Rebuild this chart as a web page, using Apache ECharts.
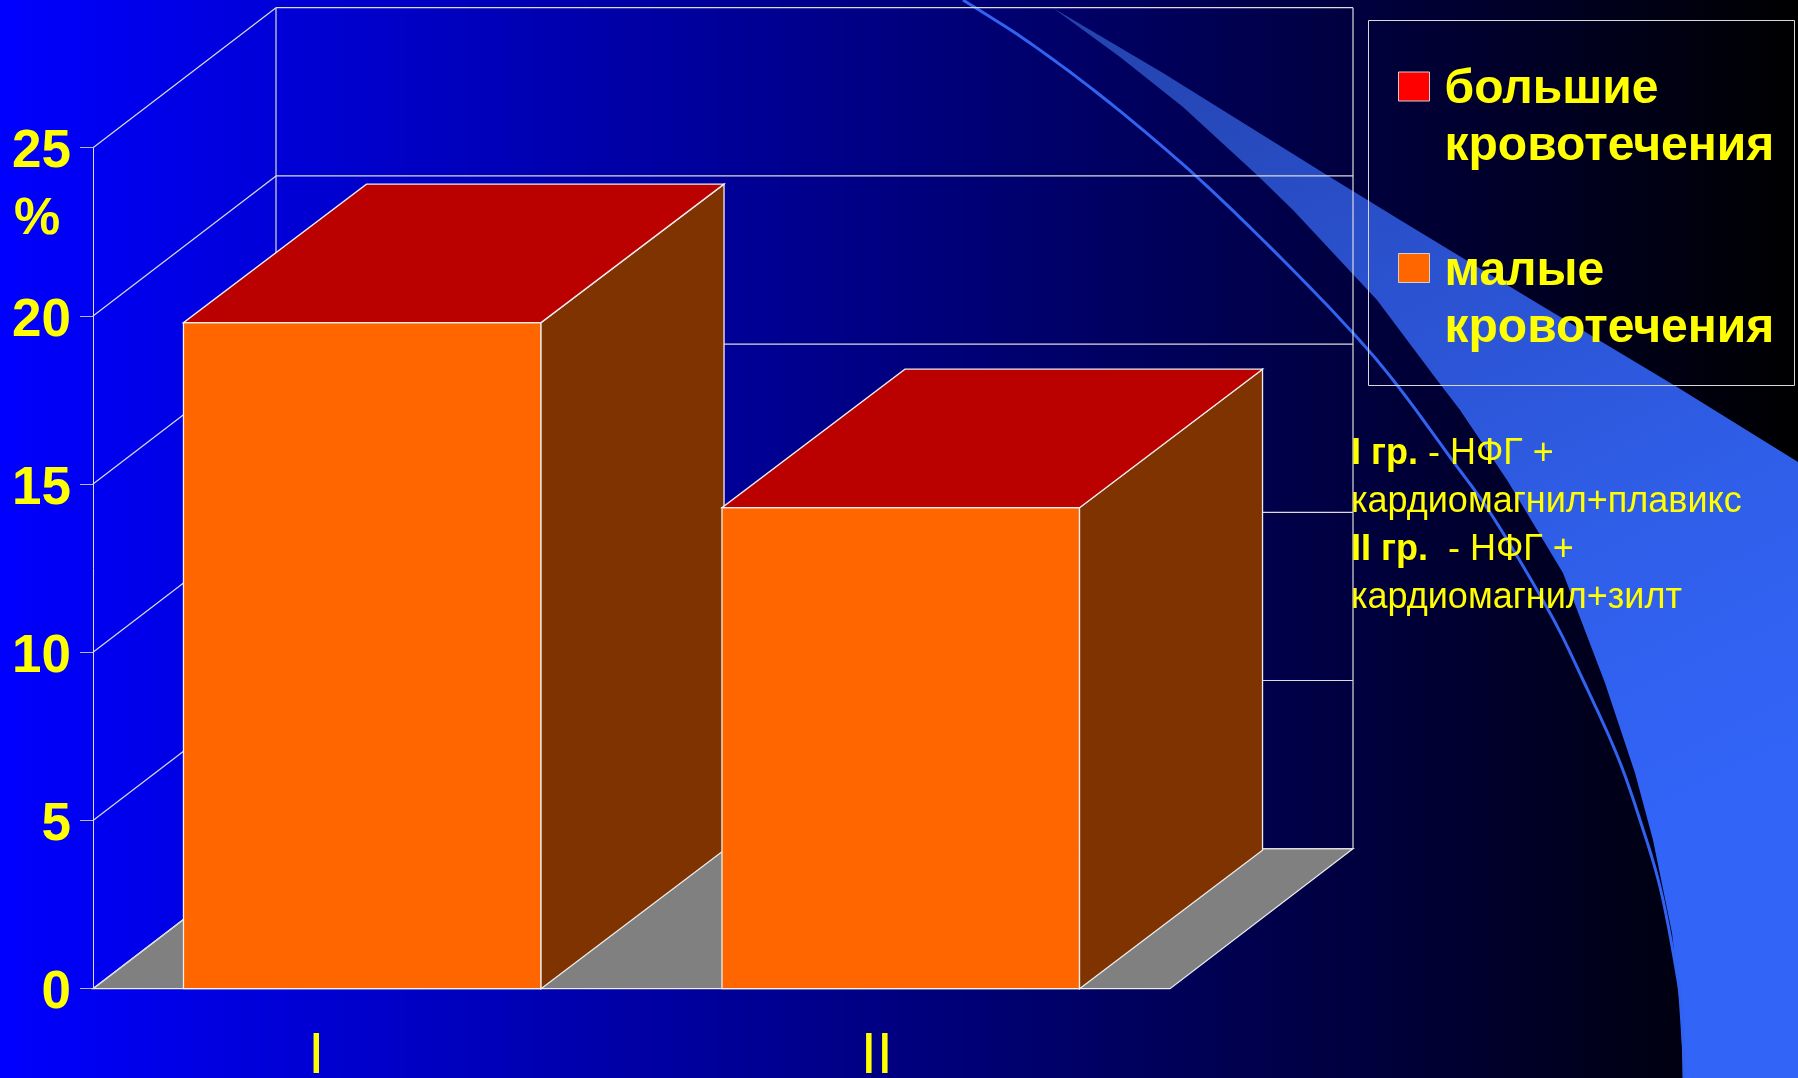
<!DOCTYPE html>
<html lang="ru">
<head>
<meta charset="utf-8">
<title>Кровотечения по группам</title>
<script src="https://cdn.jsdelivr.net/npm/echarts@6/dist/echarts.min.js"></script>
<style>
  html, body { margin: 0; padding: 0; background: #000; }
  #chart { width: 1798px; height: 1078px; }
</style>
</head>
<body>
<div id="chart"></div>
<script>
// Chart values, in percent
const categories = ['I', 'II'];
const minorBleeding = [19.8, 14.3];
const majorBleeding = [0, 0];
const yTicks = [0, 5, 10, 15, 20, 25];
const seriesNames = ['большие кровотечения', 'малые кровотечения'];

// Oblique projection offset of the box depth, in pixels
const DEPTH_X = 183;
const DEPTH_Y = -140;
const BAR_DEPTH_Y = -138.5;

const FONT = '"Liberation Sans", Arial, sans-serif';
const YELLOW = '#ffff00';
const EDGE = '#eeeeee';
const GRID_LINE = '#dcdcdc';

const chart = echarts.init(document.getElementById('chart'), null, { renderer: 'canvas' });

function poly(points, fill) {
  return {
    type: 'polygon',
    shape: { points },
    style: { fill, stroke: EDGE, lineWidth: 1.3 }
  };
}

function line(a, b, color) {
  return {
    type: 'line',
    shape: { x1: a[0], y1: a[1], x2: b[0], y2: b[1] },
    style: { stroke: color || GRID_LINE, lineWidth: 1.2, fill: null }
  };
}

const back = p => [p[0] + DEPTH_X, p[1] + DEPTH_Y];
const barBack = p => [p[0] + DEPTH_X, p[1] + BAR_DEPTH_Y];

// Walls and floor: one pass per tick value
function renderWalls(params, api) {
  const value = api.value(0);
  const band = api.size([1, 0])[0];
  const left = api.coord([0, value])[0] - band / 2;
  const right = api.coord([categories.length - 1, value])[0] + band / 2;
  const y = api.coord([0, value])[1];
  const children = [
    line([left, y], back([left, y])),
    line(back([left, y]), back([right, y]))
  ];
  if (value === 0) {
    const topY = api.coord([0, yTicks[yTicks.length - 1]])[1];
    children.unshift(poly([[left, y], [right, y], back([right, y]), back([left, y])], '#808080'));
    children.push(line(back([left, y]), back([left, topY])));
    children.push(line(back([right, y]), back([right, topY])));
  }
  return { type: 'group', children };
}

// A stacked segment drawn as an oblique box
function renderBox(faces, params, api) {
  const idx = api.value(0);
  const low = api.value(1);
  const high = api.value(2);
  const band = api.size([1, 0])[0];
  const halfWidth = band * 0.332;
  const cx = api.coord([idx, 0])[0];
  const yLow = api.coord([idx, low])[1];
  const yHigh = api.coord([idx, high])[1];
  const x0 = cx - halfWidth;
  const x1 = cx + halfWidth;
  const children = [];
  if (faces.side && yLow !== yHigh) {
    children.push(poly([[x0, yLow], [x1, yLow], [x1, yHigh], [x0, yHigh]], faces.front));
    children.push(poly([[x1, yLow], barBack([x1, yLow]), barBack([x1, yHigh]), [x1, yHigh]], faces.side));
  }
  if (faces.top) {
    children.push(poly([[x0, yHigh], [x1, yHigh], barBack([x1, yHigh]), barBack([x0, yHigh])], faces.top));
  }
  return { type: 'group', children };
}

// Background ribbon outline
const swoosh = [
  [1053, 8], [1163, 73], [1330, 177], [1400, 220], [1532, 300], [1677, 387], [1798, 462],
  [1798, 1078], [1684, 1078], [1678, 987], [1672, 933], [1653, 840], [1635, 773], [1605, 683],
  [1563, 573], [1507, 480], [1460, 410], [1437, 380], [1377, 300], [1293, 210], [1257, 175],
  [1183, 107], [1120, 57]
];
// Background thin arc
const thinArc = [
  [963, 0], [1030, 43], [1110, 103], [1197, 177], [1283, 260], [1353, 333], [1397, 385],
  [1450, 457], [1493, 517], [1550, 613], [1583, 680], [1617, 755], [1640, 820], [1660, 887],
  [1675, 963], [1682, 1013], [1684, 1078]
];

// Catmull-Rom spline through the points, sampled for a polyline
function splinePoints(pts) {
  const out = [];
  const steps = 12;
  for (let i = 0; i < pts.length - 1; i++) {
    const p0 = pts[Math.max(i - 1, 0)];
    const p1 = pts[i];
    const p2 = pts[i + 1];
    const p3 = pts[Math.min(i + 2, pts.length - 1)];
    for (let s = 0; s < steps; s++) {
      const t = s / steps;
      const at = k => 0.5 * (2 * p1[k] + (p2[k] - p0[k]) * t
        + (2 * p0[k] - 5 * p1[k] + 4 * p2[k] - p3[k]) * t * t
        + (3 * p1[k] - p0[k] - 3 * p2[k] + p3[k]) * t * t * t);
      out.push([at(0), at(1)]);
    }
  }
  out.push(pts[pts.length - 1]);
  return out;
}

const noteRows = [
  '{b|I гр.}{r| - НФГ +}',
  '{r|кардиомагнил+плавикс}',
  '{b|II гр.}{r|  - НФГ +}',
  '{r|кардиомагнил+зилт}'
];

const legendText = {
  color: YELLOW,
  fontFamily: FONT,
  fontWeight: 'bold',
  fontSize: 48,
  lineHeight: 57
};

const option = {
  animation: false,
  backgroundColor: new echarts.graphic.LinearGradient(0, 0, 1, 0, [
    { offset: 0, color: '#0000ff' },
    { offset: 1, color: '#000000' }
  ]),
  graphic: [
    {
      type: 'polygon',
      z: -1,
      silent: true,
      shape: { points: swoosh },
      style: {
        fill: new echarts.graphic.LinearGradient(0, 0, 0.7, 1, [
          { offset: 0, color: '#2342ab' },
          { offset: 0.3, color: '#2a50cc' },
          { offset: 0.6, color: '#2f5ee8' },
          { offset: 0.85, color: '#3264f8' }
        ])
      }
    },
    {
      type: 'polyline',
      z: -1,
      silent: true,
      shape: { points: splinePoints(thinArc) },
      style: { stroke: '#3162f0', lineWidth: 3, fill: null }
    },
    {
      type: 'rect',
      z: 5,
      silent: true,
      shape: { x: 1368.5, y: 20.5, width: 426, height: 365 },
      style: { fill: null, stroke: '#d8d8d8', lineWidth: 1 }
    },
    {
      type: 'text',
      z: 6,
      silent: true,
      x: 14,
      y: 220,
      style: {
        text: '%',
        font: 'bold 52px ' + FONT,
        fill: YELLOW,
        verticalAlign: 'middle'
      }
    },
    {
      type: 'text',
      z: 6,
      silent: true,
      x: 1351,
      y: 430,
      style: {
        text: noteRows.join('\n'),
        fill: YELLOW,
        lineHeight: 48,
        rich: {
          b: { font: 'bold 36px ' + FONT, fill: YELLOW, lineHeight: 48 },
          r: { font: '36px ' + FONT, fill: YELLOW, lineHeight: 48 }
        }
      }
    }
  ],
  legend: {
    data: seriesNames,
    orient: 'vertical',
    left: 1398,
    top: 24.5,
    padding: 0,
    itemWidth: 31,
    itemHeight: 29,
    itemGap: 35,
    icon: 'rect',
    selectedMode: false,
    itemStyle: { borderColor: '#d0d0d0', borderWidth: 1 },
    // A taller blank first row brings the first word level with the swatch
    formatter: name => {
      const words = name.split(' ');
      return '{z| }\n{a|' + words[0] + '}\n{a|' + words[1] + '}';
    },
    textStyle: {
      color: YELLOW,
      padding: [0, 0, 0, 10],
      rich: {
        z: { fontSize: 10, lineHeight: 64 },
        a: legendText
      }
    }
  },
  grid: { left: 93, right: 628, top: 147.7, bottom: 89.3, outerBoundsMode: 'none' },
  xAxis: {
    type: 'category',
    data: categories,
    axisLine: { lineStyle: { color: EDGE, width: 1 } },
    axisTick: { length: 13, lineStyle: { color: GRID_LINE } },
    axisLabel: {
      margin: 39,
      interval: 0,
      formatter: (v, i) => '{l' + i + '|' + v + '}',
      rich: {
        l0: { color: YELLOW, fontFamily: FONT, fontSize: 58, padding: [0, 92, 0, 0] },
        l1: { color: YELLOW, fontFamily: FONT, fontSize: 58, padding: [0, 48, 0, 0] }
      }
    }
  },
  yAxis: {
    type: 'value',
    min: 0,
    max: 25,
    interval: 5,
    splitLine: { show: false },
    axisLine: { show: true, lineStyle: { color: GRID_LINE, width: 1 } },
    axisTick: { show: true, length: 13, lineStyle: { color: '#b8b8c8' } },
    axisLabel: {
      margin: 22,
      color: YELLOW,
      fontFamily: FONT,
      fontWeight: 'bold',
      fontSize: 53,
      verticalAlign: 'top',
      lineHeight: 10
    }
  },
  series: [
    {
      name: 'стенки',
      type: 'custom',
      silent: true,
      clip: false,
      z: 1,
      data: yTicks.map(v => [v]),
      encode: { y: 0 },
      renderItem: renderWalls
    },
    {
      name: seriesNames[1],
      type: 'custom',
      silent: true,
      clip: false,
      z: 2,
      itemStyle: { color: '#ff6600' },
      data: categories.map((c, i) => [i, 0, minorBleeding[i]]),
      encode: { x: 0, y: [1, 2] },
      renderItem: (p, a) => renderBox({ front: '#ff6600', side: '#7f3300' }, p, a)
    },
    {
      name: seriesNames[0],
      type: 'custom',
      silent: true,
      clip: false,
      z: 3,
      itemStyle: { color: '#ff0000' },
      data: categories.map((c, i) => [i, minorBleeding[i], minorBleeding[i] + majorBleeding[i]]),
      encode: { x: 0, y: [1, 2] },
      renderItem: (p, a) => renderBox({ top: '#bb0000' }, p, a)
    }
  ]
};

chart.setOption(option);
</script>
</body>
</html>
